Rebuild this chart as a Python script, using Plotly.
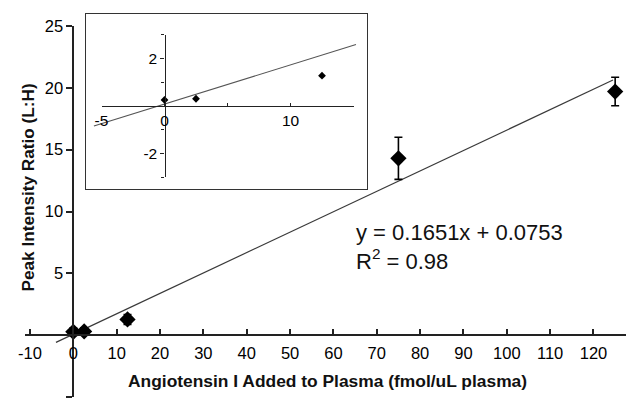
import plotly.graph_objects as go

# ---- data ----
conc_added = [0, 2.5, 12.5, 75, 125]            # fmol/uL plasma
peak_ratio = [0.27, 0.3, 1.27, 14.3, 19.7]       # L:H
ratio_err = [0.3, 0.3, 0.4, 1.7, 1.15]

inset_x = [0, 2.5, 12.5]
inset_y = [0.25, 0.3, 1.27]

fit_slope = 0.1651
fit_intercept = 0.0753
fit_span_main = [-4, 124.5]
fit_span_inset = [-5.6, 15.2]

main_xticks = [-10, 0, 10, 20, 30, 40, 50, 60, 70, 80, 90, 100, 110, 120]
main_xticktext = ["-10", "0", "10", "20", "30", "40", "50", "60", "70",
                  "80", "90", "100", "110", "120"]
main_yticks = [-5, 5, 10, 15, 20, 25]
main_yticktext = ["-5", "5", "10", "15", "20", "25"]
inset_xticks = [-5, 0, 10]
inset_xticktext = ["-5", "0", "10"]
inset_xminor = [5, 15]
inset_yticks = [-2, 2]
inset_yticktext = ["-2", "2"]
inset_yminor = [-3, -1, 1, 3]

equation_text = "y = 0.1651x + 0.0753<br>R<sup>2</sup> = 0.98"
x_title = "Angiotensin I Added to Plasma (fmol/uL plasma)"
y_title = "Peak Intensity Ratio (L:H)"

W, H = 626, 401
FONT = "Arial, Liberation Sans, sans-serif"


def px_x(p):
    return p / W


def px_y(p):
    return 1 - p / H


fig = go.Figure()

# main fit line
fig.add_trace(go.Scatter(
    x=fit_span_main,
    y=[fit_slope * v + fit_intercept for v in fit_span_main],
    mode="lines", line=dict(color="#3a3a3a", width=1.2),
    xaxis="x", yaxis="y", hoverinfo="skip"))

# main points
fig.add_trace(go.Scatter(
    x=conc_added, y=peak_ratio, mode="markers", cliponaxis=False,
    marker=dict(symbol="diamond", size=12.5, color="black"),
    error_y=dict(type="data", array=ratio_err, visible=True,
                 color="black", thickness=1.6, width=4),
    xaxis="x", yaxis="y"))

# inset fit line
fig.add_trace(go.Scatter(
    x=fit_span_inset,
    y=[fit_slope * v + fit_intercept for v in fit_span_inset],
    mode="lines", line=dict(color="#555555", width=1.1),
    xaxis="x2", yaxis="y2", hoverinfo="skip"))

# inset points
fig.add_trace(go.Scatter(
    x=inset_x, y=inset_y, mode="markers",
    marker=dict(symbol="diamond", size=6, color="black"),
    xaxis="x3", yaxis="y3"))

axis_common = dict(showgrid=False, zeroline=False, showline=True,
                   automargin=False)

fig.update_layout(
    width=W, height=H, autosize=False,
    margin=dict(l=0, r=0, t=0, b=0, pad=0),
    paper_bgcolor="white", plot_bgcolor="rgba(0,0,0,0)",
    showlegend=False,
    font=dict(family=FONT, color="black"),
    xaxis=dict(**axis_common,
               domain=[px_x(24.5), 1.0], range=[-11.26, 127.5],
               anchor="free", position=px_y(335.2),
               linecolor="#222", linewidth=1.8,
               ticks="inside", ticklen=5, tickwidth=1.5, tickcolor="#222",
               tickvals=main_xticks, ticktext=main_xticktext,
               ticklabelstandoff=3,
               tickfont=dict(size=16.5, family=FONT)),
    yaxis=dict(**axis_common,
               domain=[px_y(397), px_y(26)], range=[-5, 25],
               anchor="free", position=px_x(73.3),
               linecolor="#222", linewidth=1.8,
               ticks="outside", ticklen=6, tickwidth=1.5, tickcolor="#222",
               tickvals=main_yticks, ticktext=main_yticktext,
               tickfont=dict(size=16.5, family=FONT)),
    xaxis2=dict(**axis_common,
                domain=[px_x(85.7), px_x(366.7)], range=[-6.25, 16.05],
                anchor="y2", mirror=True, linecolor="#333", linewidth=1.3,
                ticks="", showticklabels=False),
    yaxis2=dict(**axis_common,
                domain=[px_y(189), px_y(14)], range=[-3.50, 3.87],
                anchor="x2", mirror=True, linecolor="#333", linewidth=1.3,
                ticks="", showticklabels=False),
    xaxis3=dict(**axis_common,
                domain=[px_x(101.5), px_x(353.5)], range=[-5, 15],
                anchor="free", position=px_y(105.9),
                linecolor="#222", linewidth=1.4,
                ticks="inside", ticklen=3, tickwidth=1, tickcolor="#222",
                tickvals=inset_xticks, ticktext=inset_xticktext,
                minor=dict(tickvals=inset_xminor, ticks="inside", ticklen=3,
                           tickwidth=1, tickcolor="#222"),
                tickfont=dict(size=15.5, family=FONT)),
    yaxis3=dict(**axis_common,
                domain=[px_y(177.2), px_y(34.6)], range=[-3, 3],
                anchor="free", position=px_x(164.5),
                linecolor="#222", linewidth=1.4,
                ticks="outside", ticklen=4, tickwidth=1, tickcolor="#222",
                tickvals=inset_yticks, ticktext=inset_yticktext,
                minor=dict(tickvals=inset_yminor, ticks="outside", ticklen=3,
                           tickwidth=1, tickcolor="#222"),
                tickfont=dict(size=15.5, family=FONT)),
    annotations=[
        dict(text=equation_text, x=64.7, y=7.15, xref="x", yref="y",
             xanchor="left", yanchor="middle", align="left", showarrow=False,
             font=dict(size=22, family=FONT, color="#111")),
        dict(text="<b>" + x_title + "</b>", x=px_x(327), y=px_y(381),
             xref="paper", yref="paper", xanchor="center", yanchor="middle",
             showarrow=False, font=dict(size=17.4, family=FONT, color="#111")),
        dict(text="<b>" + y_title + "</b>", x=px_x(27), y=px_y(187.5),
             xref="paper", yref="paper", xanchor="center", yanchor="middle",
             textangle=-90, showarrow=False,
             font=dict(size=17.2, family=FONT, color="#111")),
    ],
)

fig.write_html("out.html",
               config={"displayModeBar": False},
               post_script="document.body.style.margin='0px';")
